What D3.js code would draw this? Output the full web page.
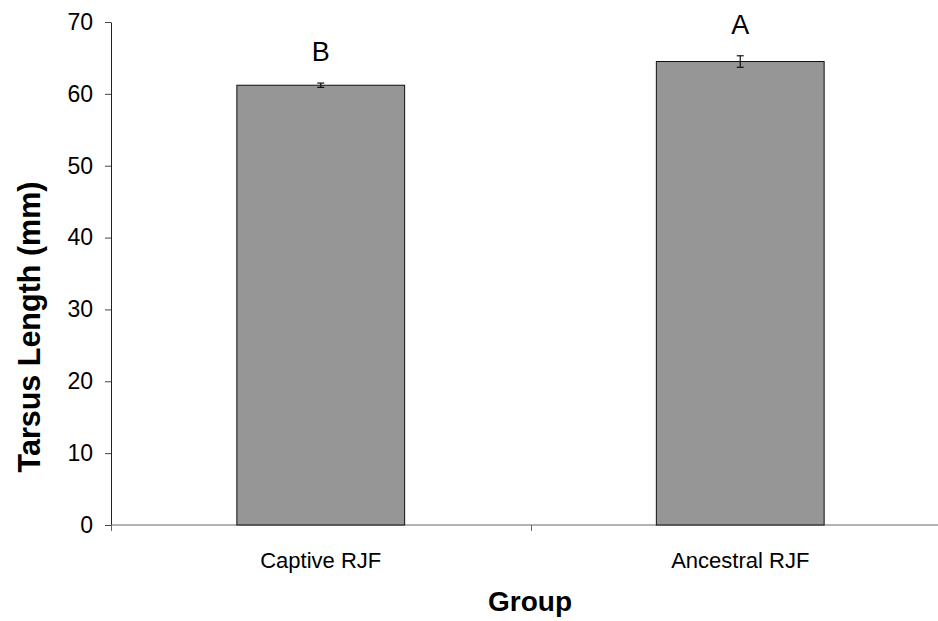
<!DOCTYPE html>
<html>
<head>
<meta charset="utf-8">
<script src="https://cdn.jsdelivr.net/npm/d3@7"></script>
<style>
  body { margin: 0; background: #fff; }
  svg { display: block; font-family: Arial, "Liberation Sans", sans-serif; }
</style>
</head>
<body>
<div id="chart"></div>
<script>
const groups = ["Captive RJF", "Ancestral RJF"];
const means = [61.2, 64.5];
const errors = [0.3, 0.8];
const letters = ["B", "A"];
const yTicks = [0, 10, 20, 30, 40, 50, 60, 70];

const width = 938;
const height = 621;
const margin = {top: 22, right: -12, bottom: 96, left: 111};

const svg = d3.select("#chart").append("svg")
    .attr("width", width)
    .attr("height", height);

const y = d3.scaleLinear()
    .domain([0, 70])
    .range([height - margin.bottom, margin.top]);

const x = d3.scaleBand()
    .domain(groups)
    .range([margin.left, width - margin.right])
    .paddingInner(0)
    .paddingOuter(0);

// bars take ~40% of each band, centred
const barW = x.bandwidth() * 0.4;

// y axis
const yAxis = svg.append("g")
    .attr("transform", `translate(${margin.left},0)`)
    .call(d3.axisLeft(y).tickValues(yTicks).tickSize(6).tickPadding(12).tickSizeOuter(0));
yAxis.select(".domain").attr("stroke", "#222");
yAxis.selectAll(".tick line").attr("stroke", "#444");
yAxis.selectAll(".tick text")
    .attr("font-size", 23)
    .attr("fill", "#000")
    .attr("font-family", "Arial, 'Liberation Sans', sans-serif");

// x axis: line with ticks at band boundaries
const boundaries = [x.range()[0]].concat(groups.map(g => x(g) + x.bandwidth()));
const xAxis = svg.append("g")
    .attr("transform", `translate(0,${y(0)})`);
xAxis.append("line")
    .attr("x1", x.range()[0])
    .attr("x2", x.range()[1])
    .attr("stroke", "#666");
xAxis.selectAll(".btick")
  .data(boundaries)
  .join("line")
    .attr("class", "btick")
    .attr("x1", d => Math.round(d) + 0.5)
    .attr("x2", d => Math.round(d) + 0.5)
    .attr("y1", 0)
    .attr("y2", 6)
    .attr("stroke", "#666");

// bars
svg.append("g")
  .selectAll("rect")
  .data(groups)
  .join("rect")
    .attr("x", d => x(d) + (x.bandwidth() - barW) / 2)
    .attr("y", (d, i) => y(means[i]))
    .attr("width", barW)
    .attr("height", (d, i) => y(0) - y(means[i]))
    .attr("fill", "#969696")
    .attr("stroke", "#111")
    .attr("stroke-width", 1);

// error bars
const eb = svg.append("g").attr("stroke", "#111").attr("stroke-width", 1.2);
groups.forEach((g, i) => {
  const cx = x(g) + x.bandwidth() / 2;
  const lo = y(means[i] - errors[i]);
  const hi = y(means[i] + errors[i]);
  eb.append("line").attr("x1", cx).attr("x2", cx).attr("y1", lo).attr("y2", hi);
  eb.append("line").attr("x1", cx - 3.5).attr("x2", cx + 3.5).attr("y1", lo).attr("y2", lo);
  eb.append("line").attr("x1", cx - 3.5).attr("x2", cx + 3.5).attr("y1", hi).attr("y2", hi);
});

// significance letters
svg.append("g")
  .selectAll("text")
  .data(groups)
  .join("text")
    .attr("x", d => x(d) + x.bandwidth() / 2)
    .attr("y", (d, i) => y(means[i] + errors[i]) - 22)
    .attr("text-anchor", "middle")
    .attr("font-size", 27)
    .text((d, i) => letters[i]);

// category labels
svg.append("g")
  .selectAll("text")
  .data(groups)
  .join("text")
    .attr("x", d => x(d) + x.bandwidth() / 2)
    .attr("y", 568)
    .attr("text-anchor", "middle")
    .attr("font-size", 22)
    .text(d => d);

// axis titles
svg.append("text")
    .attr("x", 530)
    .attr("y", 611)
    .attr("text-anchor", "middle")
    .attr("font-size", 28)
    .attr("font-weight", "bold")
    .text("Group");

svg.append("text")
    .attr("transform", "translate(40,327) rotate(-90)")
    .attr("text-anchor", "middle")
    .attr("font-size", 30.5)
    .attr("font-weight", "bold")
    .text("Tarsus Length (mm)");
</script>
</body>
</html>
